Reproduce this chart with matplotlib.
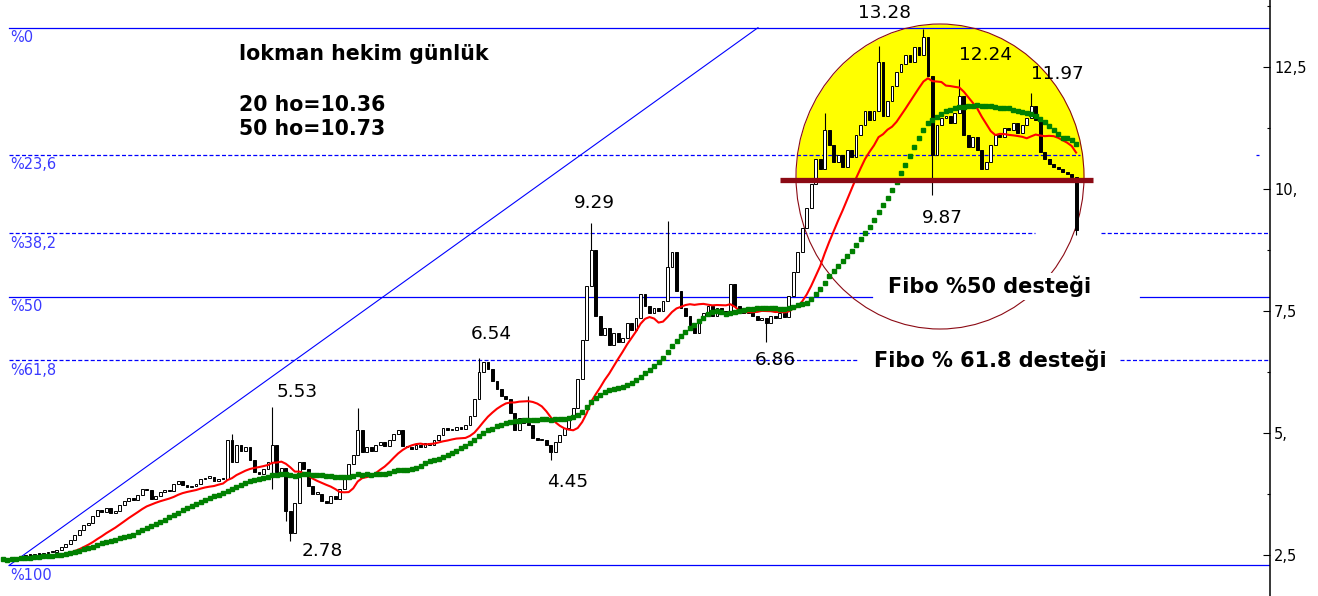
import matplotlib
matplotlib.use("Agg")
import matplotlib.pyplot as plt
from matplotlib.patches import Ellipse
import numpy as np
import pandas as pd

plt.rcParams['font.family'] = ['DejaVu Sans']

# daily closes, left to right (10 per row)
closes = [
    2.42, 2.38, 2.45, 2.40, 2.47, 2.50, 2.48, 2.52, 2.50, 2.53,
    2.55, 2.56, 2.60, 2.66, 2.72, 2.80, 2.90, 3.00, 3.10, 3.15,
    3.30, 3.42, 3.38, 3.45, 3.36, 3.40, 3.52, 3.60, 3.66, 3.62,
    3.72, 3.85, 3.82, 3.65, 3.70, 3.78, 3.82, 3.80, 3.95, 4.02,
    3.92, 3.88, 3.90, 3.95, 4.05, 4.08, 4.10, 4.02, 4.06, 4.05,
    4.85, 4.40, 4.75, 4.62, 4.70, 4.45, 4.20, 4.15, 4.25, 4.40,
    4.75, 4.20, 4.28, 3.40, 2.95, 3.55, 4.40, 4.25, 3.90, 3.75,
    3.75, 3.60, 3.55, 3.70, 3.65, 3.85, 4.10, 4.35, 4.55, 5.05,
    4.60, 4.70, 4.62, 4.75, 4.80, 4.72, 4.85, 4.98, 5.05, 4.72,
    4.70, 4.66, 4.75, 4.70, 4.78, 4.74, 4.85, 4.95, 5.10, 5.05,
    5.05, 5.12, 5.08, 5.15, 5.35, 5.70, 6.25, 6.45, 6.30, 6.05,
    5.90, 5.75, 5.70, 5.40, 5.05, 5.30, 5.20, 5.15, 4.90, 4.85,
    4.85, 4.75, 4.60, 4.80, 4.95, 5.10, 5.35, 5.50, 6.10, 6.90,
    8.00, 8.75, 7.40, 7.00, 7.15, 6.80, 7.05, 6.85, 6.95, 7.25,
    7.10, 7.35, 7.85, 7.60, 7.45, 7.55, 7.50, 7.70, 8.40, 8.70,
    7.90, 7.55, 7.40, 7.20, 7.05, 7.30, 7.45, 7.60, 7.40, 7.55,
    7.50, 7.45, 8.05, 7.60, 7.50, 7.45, 7.55, 7.40, 7.30, 7.35,
    7.25, 7.40, 7.35, 7.45, 7.38, 7.80, 8.30, 8.70, 9.20, 9.60,
    10.10, 10.60, 10.40, 11.20, 10.90, 10.55, 10.70, 10.45, 10.80, 10.65,
    11.10, 11.30, 11.60, 11.40, 11.60, 12.60, 11.50, 11.80, 12.10, 12.40,
    12.55, 12.75, 12.60, 12.90, 12.75, 13.10, 12.30, 10.70, 11.30, 11.45,
    11.50, 11.35, 11.55, 11.90, 11.10, 10.85, 11.05, 10.80, 10.40, 10.55,
    10.90, 11.10, 11.05, 11.25, 11.20, 11.35, 11.15, 11.30, 11.45, 11.70,
    11.40, 10.75, 10.60, 10.50, 10.45, 10.40, 10.35, 10.30, 10.25, 9.15,
]
first_open = 2.45

# wick extremes where the chart shows a visible spike (candle index -> price)
spike_highs = {51: 4.98, 60: 5.53, 79: 5.50, 106: 6.54, 117: 5.75, 131: 9.29,
               148: 9.33, 183: 11.55, 195: 12.92, 205: 13.28, 213: 12.24, 229: 11.97}
spike_lows = {60: 3.85, 63: 3.20, 64: 2.78, 122: 4.45, 170: 6.86, 207: 9.87, 239: 9.05}

# fibonacci retracement between swing low and swing high
swing_high = 13.30
swing_low = 2.28
fib_ratios = [0.0, 0.236, 0.382, 0.5, 0.618, 1.0]
fib_names = ['%0', '%23,6', '%38,2', '%50', '%61,8', '%100']
fib_dashed = [False, True, True, False, True, False]

support = 10.18
ma_short_n = 15   # "20 ho" on the original chart (fewer candles here)
ma_long_n = 30    # "50 ho"

title_lines = ['lokman hekim günlük', '20 ho=10.36', '50 ho=10.73']
peak_texts = ['13.28', '12.24', '11.97', '9.87', '9.29', '6.54', '5.53', '2.78', '4.45', '6.86']
fibo_texts = ['Fibo %50 desteği', 'Fibo % 61.8 desteği']

y_ticks = [2.5, 5.0, 7.5, 10.0, 12.5]
y_ticklabels = ['2,5', '5,', '7,5', '10,', '12,5']
y_minor = [3.75, 6.25, 8.75, 11.25, 13.75]

# ---- layout (pixel positions of the 1318x596 picture) ----
W, H = 1318, 596
AX_W = 1270
PX0, PX_STEP = 3.0, 4.49


def px_x(px):
    return (px - PX0) / PX_STEP


def ax_pos(px, py):
    return px / AX_W, 1 - py / H


fig = plt.figure(figsize=(W / 100, H / 100), dpi=100)
ax = fig.add_axes([0, 0, AX_W / W, 1])
ax.set_xlim(px_x(0), px_x(AX_W))
ax.set_ylim(1.654, 13.867)

n = len(closes)
idx = np.arange(n)
close = np.array(closes)
open_ = np.r_[first_open, close[:-1]]
high = np.maximum(open_, close)
low = np.minimum(open_, close)
for i, v in spike_highs.items():
    high[i] = v
for i, v in spike_lows.items():
    low[i] = v
up = close >= open_

# yellow half circle + outline
cx, a = px_x(940), 144 / PX_STEP
cy, b = 10.25, 3.125
xs = np.linspace(cx - a, cx + a, 300)
top = cy + b * np.sqrt(np.clip(1 - ((xs - cx) / a) ** 2, 0, None))
ax.fill_between(xs, support, top, where=top > support, color='#ffff00', lw=0, zorder=1)
ax.add_patch(Ellipse((cx, cy), 2 * a, 2 * b, fill=False, edgecolor='#8b0a14', lw=0.8, zorder=2.5))

# fibonacci levels
fib_levels = [swing_high - r * (swing_high - swing_low) for r in fib_ratios]
fib_segments = [[(9, 1270)], [(9, 1080), (1256, 1259)], [(9, 1035), (1101, 1270)],
                [(9, 872), (1140, 1270)], [(9, 857), (1120, 1270)], [(9, 1270)]]
for lvl, name, dashed, segs in zip(fib_levels, fib_names, fib_dashed, fib_segments):
    ls = (0, (3.2, 1.8)) if dashed else '-'
    for x0, x1 in segs:
        ax.plot([px_x(x0), px_x(x1)], [lvl, lvl], color='#0000ff', lw=0.9, ls=ls, zorder=2)
    ax.annotate(name, xy=(px_x(10), lvl), xytext=(0, -10.5), textcoords='offset points',
                ha='left', va='baseline', fontsize=10.5, color='#3a3aff', zorder=8)

# trend line from swing low to swing high
ax.plot([px_x(9), px_x(758)], [swing_low, swing_high], color='#0000ff', lw=0.8, zorder=2)

# candles
ax.vlines(idx, low, high, color='black', lw=0.8, zorder=3)
body = np.maximum(np.abs(close - open_), 0.03)
ax.bar(idx, body, bottom=np.minimum(open_, close), width=0.62,
       color=np.where(up, 'white', 'black'), edgecolor='black', linewidth=0.7, zorder=4)

# moving averages
s = pd.Series(close)
ma_short = s.rolling(ma_short_n, min_periods=1).mean()
ma_long = s.rolling(ma_long_n, min_periods=1).mean()
ax.plot(idx, ma_short, color='#ff0000', lw=1.5, zorder=5)
ax.plot(idx, ma_long, ls='none', marker='s', ms=3.5, color='#008000', mec='#008000', zorder=6)

# support bar
ax.plot([px_x(780), px_x(1093)], [support, support], color='#8b0a14', lw=3.8,
        solid_capstyle='butt', zorder=7)

# texts
title_pos = [(239, 60), (239, 110.7), (239, 135)]
for t, (px, py) in zip(title_lines, title_pos):
    ax.text(*ax_pos(px, py), t, transform=ax.transAxes, ha='left', va='baseline',
            fontsize=14.8, fontweight='bold', color='black', zorder=8)

peak_pos = [(885, 18), (986, 60), (1057, 79), (942, 223), (594, 208),
            (491, 339), (297, 397), (322, 556), (568, 487), (775, 365)]
for t, (px, py) in zip(peak_texts, peak_pos):
    ax.text(*ax_pos(px, py), t, transform=ax.transAxes, ha='center', va='baseline',
            fontsize=13.3, color='black', zorder=8)

fibo_pos = [(990, 293), (990, 367)]
for t, (px, py) in zip(fibo_texts, fibo_pos):
    ax.text(*ax_pos(px, py), t, transform=ax.transAxes, ha='center', va='baseline',
            fontsize=15, fontweight='bold', color='black', zorder=9,
            bbox=dict(facecolor='white', edgecolor='none', pad=2))

# axis
for side in ['left', 'top', 'bottom']:
    ax.spines[side].set_visible(False)
ax.spines['right'].set_linewidth(1.1)
ax.set_xticks([])
ax.yaxis.tick_right()
ax.set_yticks(y_ticks)
ax.set_yticklabels(y_ticklabels)
ax.set_yticks(y_minor, minor=True)
ax.tick_params(axis='y', which='major', direction='in', length=5, width=0.8,
               labelsize=10.5, pad=3)
ax.tick_params(axis='y', which='minor', direction='in', length=2.2, width=0.8)

fig.savefig('out.png', dpi=100)
